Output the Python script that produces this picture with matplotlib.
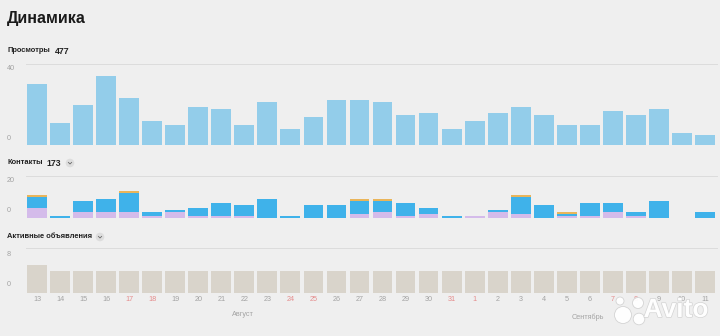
"""Dynamics panel: daily views, contacts and active listings, 13 Aug - 11 Sep."""

import matplotlib.pyplot as plt
import matplotlib.patheffects as pe
from matplotlib.patches import Circle

plt.rcParams["font.family"] = ["Liberation Sans", "DejaVu Sans"]

W, H = 720, 336
BG = "#efefef"

DAYS = [13, 14, 15, 16, 17, 18, 19, 20, 21, 22, 23, 24, 25, 26, 27, 28, 29, 30, 31,
        1, 2, 3, 4, 5, 6, 7, 8, 9, 10, 11]
WEEKEND = [17, 18, 24, 25, 31, 1, 7, 8]

VIEWS = [30, 11, 20, 34, 23, 12, 10, 19, 18, 10,
         21, 8, 14, 22, 22, 21, 15, 16, 8, 12,
         16, 19, 15, 10, 10, 17, 15, 18, 6, 5]

# contacts split by channel, stacked bottom -> top
CONTACTS_LILAC = [5, 0, 3, 3, 3, 1, 3, 1, 1, 1,
                  0, 0, 0, 0, 2, 3, 1, 2, 0, 1,
                  3, 2, 0, 1, 1, 3, 1, 0, 0, 0]
CONTACTS_BLUE = [5, 1, 5, 6, 9, 2, 1, 4, 6, 5,
                 9, 1, 6, 6, 6, 5, 6, 3, 1, 0,
                 1, 8, 6, 1, 6, 4, 2, 8, 0, 3]
CONTACTS_ORANGE = [1, 0, 0, 0, 1, 0, 0, 0, 0, 0,
                   0, 0, 0, 0, 1, 1, 0, 0, 0, 0,
                   0, 1, 0, 1, 0, 0, 0, 0, 0, 0]

ACTIVE = [5, 4, 4, 4, 4, 4, 4, 4, 4, 4,
          4, 4, 4, 4, 4, 4, 4, 4, 4, 4,
          4, 4, 4, 4, 4, 4, 4, 4, 4, 4]

VIEWS_COLOR = "#93cdea"
BLUE = "#3fb2ea"
LILAC = "#d4bbea"
ORANGE = "#eab55a"
ACTIVE_COLOR = "#d9d4cb"
GRID = "#dcdcdc"
TICK_GRAY = "#a3a3a3"
WEEKEND_RED = "#e58c8c"
DARK = "#222222"

X0, X1 = 25.5, 716.5
BAR_W = 0.86


def panel(fig, top, bottom, ymax):
    ax = fig.add_axes([X0 / W, 1 - bottom / H, (X1 - X0) / W, (bottom - top) / H])
    ax.set_facecolor("none")
    ax.set_xlim(-0.5, len(DAYS) - 0.5)
    ax.set_ylim(0, ymax)
    for s in ax.spines.values():
        s.set_visible(False)
    ax.set_xticks([])
    ax.set_yticks([])
    ax.axhline(ymax, color=GRID, lw=0.7, clip_on=False, zorder=0)
    ax.axhline(0, color="#e4e4e4", lw=0.7, zorder=0)
    return ax


fig = plt.figure(figsize=(W / 100, H / 100), dpi=100, facecolor=BG)

# pixel-space layer for headings, axis numbers and the watermark
ov = fig.add_axes([0, 0, 1, 1], zorder=5)
ov.set_xlim(0, W)
ov.set_ylim(H, 0)
ov.set_facecolor("none")
ov.axis("off")


def header(y, label, total=None, total_x=None, chevron_x=None):
    ov.text(7, y, label, fontsize=5.4, fontweight="bold", color=DARK, va="center")
    if total is not None:
        ov.text(total_x, y, str(total), fontsize=6.3, fontweight="bold", color=DARK,
                va="center")
    if chevron_x is not None:
        ov.add_patch(Circle((chevron_x, y), 4.3, color="#dddddd", lw=0))
        ov.plot([chevron_x - 1.6, chevron_x, chevron_x + 1.6], [y - 0.6, y + 1.0, y - 0.6],
                color="#666666", lw=0.6)


def ytick(y, text):
    ov.text(7, y, text, fontsize=5.2, color=TICK_GRAY, va="center")


ov.text(7, 19, "Динамика", fontsize=11.5, fontweight="bold", color="#1a1a1a", va="center")

x = list(range(len(DAYS)))

# views
header(51, "Просмотры", 477, total_x=55)
ax_v = panel(fig, 64, 145, 40)
ax_v.bar(x, VIEWS, width=BAR_W, color=VIEWS_COLOR)
ytick(68, "40")
ytick(138, "0")

# contacts
header(163, "Контакты", 173, total_x=46, chevron_x=70)
ax_c = panel(fig, 176, 218, 20)
ax_c.bar(x, CONTACTS_LILAC, width=BAR_W, color=LILAC)
base = CONTACTS_LILAC
ax_c.bar(x, CONTACTS_BLUE, width=BAR_W, bottom=base, color=BLUE)
base = [a + b for a, b in zip(CONTACTS_LILAC, CONTACTS_BLUE)]
ax_c.bar(x, CONTACTS_ORANGE, width=BAR_W, bottom=base, color=ORANGE)
ytick(181, "20")
ytick(211, "0")

# active listings
header(237, "Активные объявления", chevron_x=100)
ax_a = panel(fig, 248, 293, 8)
ax_a.bar(x, ACTIVE, width=BAR_W, color=ACTIVE_COLOR)
ytick(254, "8")
ytick(284, "0")

ax_a.set_xticks(x)
ax_a.set_xticklabels([str(d) for d in DAYS], fontsize=5.2)
ax_a.tick_params(axis="x", length=0, pad=2.5)
for lbl, d in zip(ax_a.get_xticklabels(), DAYS):
    lbl.set_color(WEEKEND_RED if d in WEEKEND else TICK_GRAY)

ov.text(243, 314, "Август", fontsize=5.2, color=TICK_GRAY, ha="center", va="center")
ov.text(588, 317, "Сентябрь", fontsize=5.2, color=TICK_GRAY, ha="center", va="center")

# watermark
edge = [pe.withStroke(linewidth=1.0, foreground="#d2d2d2")]
ov.text(676, 310, "Avito", fontsize=19, fontweight="bold", color="white",
        ha="center", va="center", path_effects=edge, alpha=0.95)
for cx, cy, r in [(623, 315, 8.5), (638, 303, 5.5), (620, 301, 4.0), (639, 319, 5.8)]:
    ov.add_patch(Circle((cx, cy), r, fc="white", ec="#d2d2d2", lw=0.6, alpha=0.95))

fig.savefig("out.png", dpi=100, facecolor=BG)
